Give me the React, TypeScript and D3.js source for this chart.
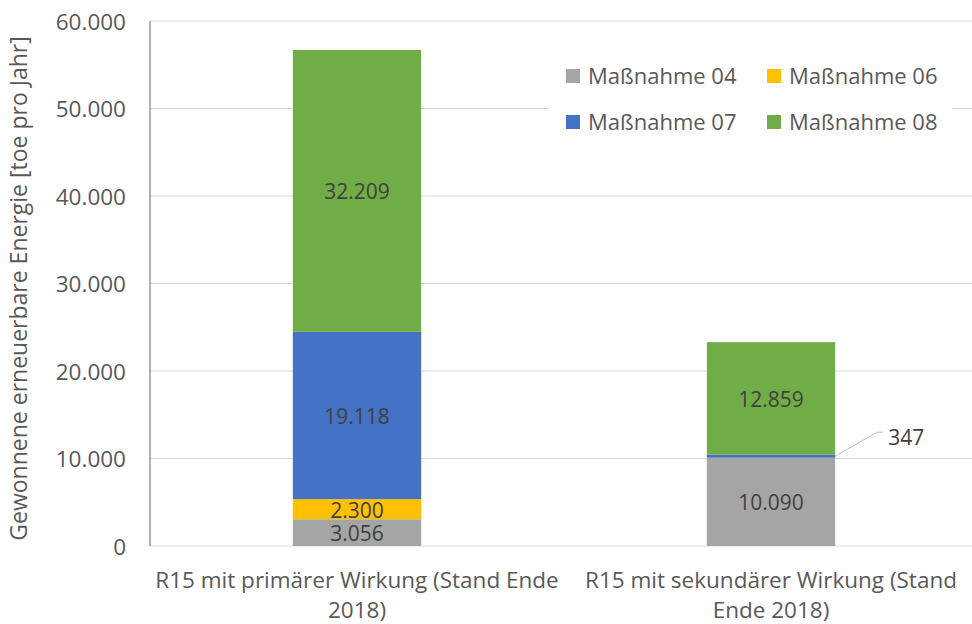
import React from "react";
import * as d3 from "d3";

const categories = ["R15 mit primärer Wirkung (Stand Ende 2018)", "R15 mit sekundärer Wirkung (Stand Ende 2018)"];
const categoryLines = [
  ["R15 mit primärer Wirkung (Stand Ende", "2018)"],
  ["R15 mit sekundärer Wirkung (Stand", "Ende 2018)"],
];
const seriesNames = ["Maßnahme 04", "Maßnahme 06", "Maßnahme 07", "Maßnahme 08"];
const seriesColors = ["#A5A5A5", "#FFC000", "#4472C4", "#70AD47"];
const m04 = [3056, 10090];
const m06 = [2300, 0];
const m07 = [19118, 347];
const m08 = [32209, 12859];
const yTicks = [0, 10000, 20000, 30000, 40000, 50000, 60000];
const yTitle = "Gewonnene erneuerbare Energie [toe pro Jahr]";

const FONT = "'Open Sans', sans-serif";

export default function App() {
  const W = 972, H = 624;
  const left = 150, right = 978, top = 21, bottom = 546;
  const x = d3.scaleBand<string>().domain(categories).range([left, right]).paddingInner(0.69).paddingOuter(0.345);
  const y = d3.scaleLinear().domain([0, 60000]).range([bottom, top]);
  const fmt = (v: number) => d3.format(",")(v).replace(/,/g, ".");

  const rows = categories.map((c, i) => ({ c, m04: m04[i], m06: m06[i], m07: m07[i], m08: m08[i] }));
  const keys = ["m04", "m06", "m07", "m08"];
  const stack = d3.stack<any>().keys(keys)(rows);

  const bw = x.bandwidth();

  return (
    <svg width={W} height={H} style={{ position: "absolute", left: 0, top: 0, background: "#fff" }} fontFamily={FONT}>
      {yTicks.map((t) => (
        <line key={t} x1={left} x2={right} y1={y(t)} y2={y(t)} stroke="#D9D9D9" strokeWidth={1} />
      ))}
      <rect x={549} y={52} width={403} height={92} fill="#fff" />
      <line x1={left} x2={left} y1={top} y2={bottom} stroke="#7F7F7F" strokeWidth={1.2} />
      {yTicks.map((t) => (
        <text key={t} x={126} y={y(t) + 1} dy="0.35em" textAnchor="end" fontSize={22.5} fill="#595959">
          {fmt(t)}
        </text>
      ))}
      <text transform={`translate(19, ${(top + bottom) / 2 + 5}) rotate(-90)`} textAnchor="middle" fontSize={23} fill="#595959" dy="0.35em">
        {yTitle}
      </text>
      {stack.map((s, si) =>
        s.map((d, i) => {
          const v = d[1] - d[0];
          if (v <= 0) return null;
          return (
            <rect key={si + "-" + i} x={x(categories[i])} width={bw} y={y(d[1])} height={y(d[0]) - y(d[1])} fill={seriesColors[si]} />
          );
        })
      )}
      {stack.map((s, si) =>
        s.map((d, i) => {
          const v = d[1] - d[0];
          if (v <= 0) return null;
          const cx = (x(categories[i]) as number) + bw / 2;
          const cy = (y(d[0]) + y(d[1])) / 2;
          if (v < 1000) {
            const x0 = (x(categories[i]) as number) + bw;
            return (
              <g key={"l" + si + "-" + i}>
                <polyline points={`${x0},${cy} ${x0 + 42},${cy - 24} ${x0 + 48},${cy - 24}`} fill="none" stroke="#BFBFBF" strokeWidth={1} />
                <text x={x0 + 53} y={cy - 19} dy="0.35em" fontSize={21} fill="#404040">{fmt(v)}</text>
              </g>
            );
          }
          return (
            <text key={"l" + si + "-" + i} x={cx} y={cy + 1} dy="0.35em" textAnchor="middle" fontSize={21} fill="#404040">
              {fmt(v)}
            </text>
          );
        })
      )}
      {categoryLines.map((lines, i) => (
        <text key={i} textAnchor="middle" fontSize={22.5} fill="#595959">
          {lines.map((l, j) => (
            <tspan key={j} x={(x(categories[i]) as number) + bw / 2} y={588 + j * 30}>{l}</tspan>
          ))}
        </text>
      ))}
      {seriesNames.map((n, i) => {
        const col = i % 2, row = Math.floor(i / 2);
        const lx = 566 + col * 201, ly = 76 + row * 46;
        return (
          <g key={n}>
            <rect x={lx} y={ly - 7} width={14} height={14} fill={seriesColors[i]} />
            <text x={lx + 22} y={ly} dy="0.35em" fontSize={22} fill="#595959">{n}</text>
          </g>
        );
      })}
    </svg>
  );
}
